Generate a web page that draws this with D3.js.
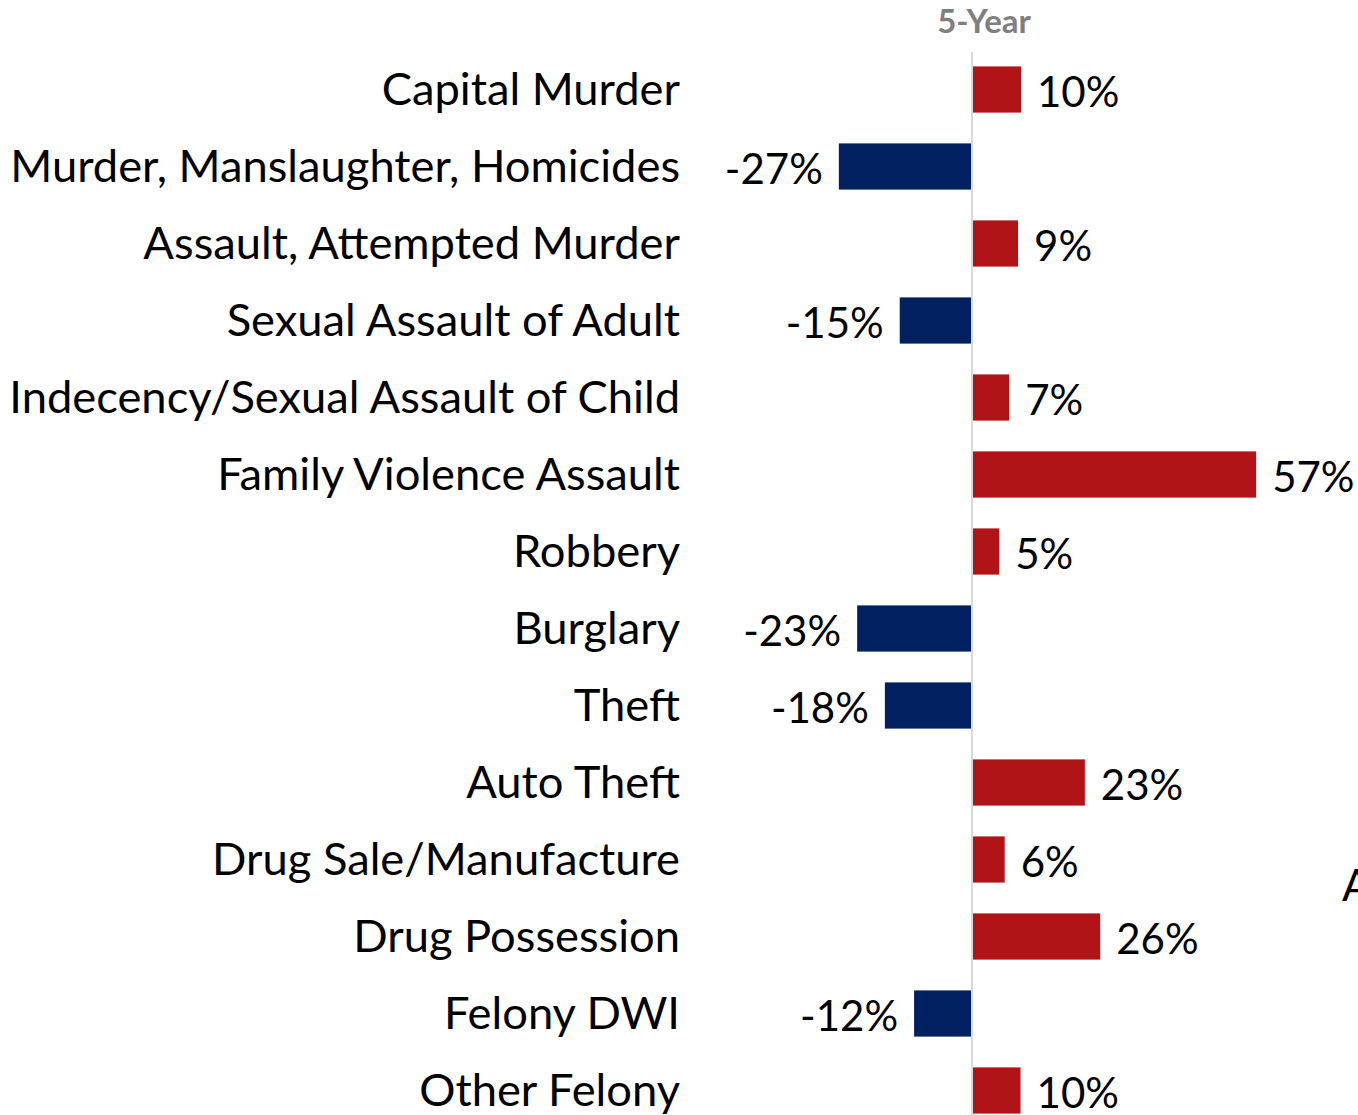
<!DOCTYPE html>
<html>
<head>
<meta charset="utf-8">
<script src="https://cdn.jsdelivr.net/npm/d3@7"></script>
<style>
  body { margin: 0; background: #fff; }
  svg { display: block; font-family: Lato, "Open Sans", sans-serif; }
</style>
</head>
<body>
<div id="chart"></div>
<script>
const categories = [
    "Capital Murder",
    "Murder, Manslaughter, Homicides",
    "Assault, Attempted Murder",
    "Sexual Assault of Adult",
    "Indecency/Sexual Assault of Child",
    "Family Violence Assault",
    "Robbery",
    "Burglary",
    "Theft",
    "Auto Theft",
    "Drug Sale/Manufacture",
    "Drug Possession",
    "Felony DWI",
    "Other Felony"
];
const changes = [9.7, -26.9, 9.1, -14.6, 7.3, 57.2, 5.3, -23.2, -17.6, 22.6, 6.4, 25.7, -11.7, 9.6];
const header = "5-Year";

const width = 1358, height = 1115;
const svg = d3.select("#chart").append("svg")
    .attr("width", width)
    .attr("height", height);

const x = d3.scaleLinear().domain([-30, 60]).range([823.5, 1269]);
const y = d3.scaleBand().domain(categories).range([51, 1129]).paddingInner(0.4).paddingOuter(0.2);

// zero line
svg.append("line")
    .attr("x1", x(0)).attr("x2", x(0))
    .attr("y1", 52).attr("y2", height)
    .attr("stroke", "#d9d9d9")
    .attr("stroke-width", 2);

const rows = svg.selectAll(".row")
    .data(categories.map((c, i) => ({ name: c, value: changes[i] })))
    .enter().append("g")
    .attr("class", "row");

rows.append("rect")
    .attr("x", d => d.value < 0 ? x(d.value) : x(0) + 1)
    .attr("y", d => y(d.name))
    .attr("width", d => Math.abs(x(d.value) - x(0)) - (d.value < 0 ? 1 : 0))
    .attr("height", y.bandwidth())
    .attr("fill", d => d.value < 0 ? "#002060" : "#b01416");

rows.append("text")
    .attr("x", 680)
    .attr("y", d => y(d.name) + y.bandwidth() / 2)
    .attr("dy", "0.35em")
    .attr("text-anchor", "end")
    .attr("font-size", 45.3)
    .attr("fill", "#000")
    .text(d => d.name);

rows.append("text")
    .attr("x", d => d.value < 0 ? x(d.value) - 16 : x(d.value) + 17)
    .attr("y", d => y(d.name) + y.bandwidth() / 2 + 3)
    .attr("dy", "0.35em")
    .attr("text-anchor", d => d.value < 0 ? "end" : "start")
    .attr("font-size", 42)
    .attr("fill", "#000")
    .text(d => Math.round(d.value) + "%");

svg.append("text")
    .attr("x", 984)
    .attr("y", 33)
    .attr("text-anchor", "middle")
    .attr("font-size", 33)
    .attr("font-weight", "bold")
    .attr("fill", "#7f7f7f")
    .text(header);

// cut-off text at the right edge
svg.append("text")
    .attr("x", 1342)
    .attr("y", 901)
    .attr("font-size", 44)
    .attr("fill", "#000")
    .text("A");
</script>
</body>
</html>
